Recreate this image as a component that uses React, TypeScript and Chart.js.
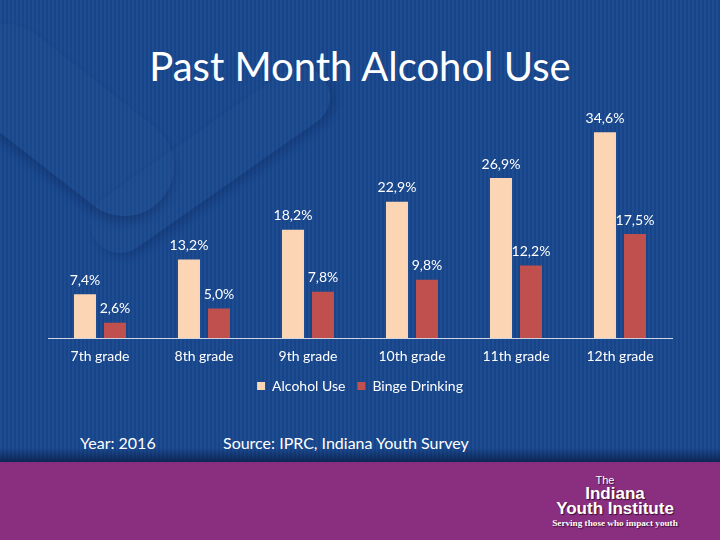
import React, { useEffect, useRef } from "react";
import { Chart, registerables } from "chart.js";

Chart.register(...registerables);

const categories = ["7th grade", "8th grade", "9th grade", "10th grade", "11th grade", "12th grade"];
const alcoholUse = [7.4, 13.2, 18.2, 22.9, 26.9, 34.6];
const bingeDrinking = [2.6, 5.0, 7.8, 9.8, 12.2, 17.5];
const seriesNames = ["Alcohol Use", "Binge Drinking"];
const titleText = "Past Month Alcohol Use";
const yearText = "Year: 2016";
const sourceText = "Source: IPRC, Indiana Youth Survey";

const FONT = "Lato, 'Open Sans', sans-serif";

const valueLabels = {
  id: "valueLabels",
  afterDatasetsDraw(chart: any) {
    const ctx = chart.ctx;
    ctx.save();
    ctx.font = `14px ${FONT}`;
    ctx.fillStyle = "#ffffff";
    ctx.textAlign = "center";
    ctx.textBaseline = "bottom";
    chart.data.datasets.forEach((ds: any, i: number) => {
      const meta = chart.getDatasetMeta(i);
      meta.data.forEach((el: any, j: number) => {
        const v = ds.data[j] as number;
        ctx.fillText(v.toFixed(1).replace(".", ",") + "%", el.x, el.y - 7);
      });
    });
    ctx.restore();
  },
};

function BarChart() {
  const ref = useRef<HTMLCanvasElement | null>(null);
  useEffect(() => {
    if (!ref.current) return;
    const chart = new Chart(ref.current, {
      type: "bar",
      data: {
        labels: categories,
        datasets: [
          {
            label: seriesNames[0],
            data: alcoholUse,
            backgroundColor: "#fcd5b5",
            categoryPercentage: 0.577,
            barPercentage: 0.733,
          },
          {
            label: seriesNames[1],
            data: bingeDrinking,
            backgroundColor: "#c0504d",
            categoryPercentage: 0.577,
            barPercentage: 0.733,
          },
        ],
      },
      options: {
        responsive: false,
        animation: false,
        devicePixelRatio: 1,
        layout: { padding: { left: 48, right: 48, top: 10, bottom: 7 } },
        plugins: {
          tooltip: { enabled: false },
          legend: {
            display: true,
            position: "bottom",
            labels: {
              color: "#ffffff",
              boxWidth: 8,
              boxHeight: 8,
              padding: 12,
              font: { family: FONT, size: 14 },
            },
          },
        },
        scales: {
          x: {
            grid: { display: false, drawTicks: false },
            border: { display: true, color: "#d0d8e8", width: 1 },
            ticks: { color: "#ffffff", padding: 10, font: { family: FONT, size: 14 } },
            afterFit: (s: any) => {
              s.height = s.height - 8;
            },
          },
          y: { display: false, min: 0, max: 40 },
        },
      },
      plugins: [valueLabels],
    } as any);
    return () => chart.destroy();
  }, []);
  return (
    <canvas
      ref={ref}
      width={720}
      height={320}
      style={{ position: "absolute", left: 0, top: 90, width: 720, height: 320 }}
    />
  );
}

export default function App() {
  return (
    <div
      style={{
        position: "absolute",
        left: 0,
        top: 0,
        width: 720,
        height: 540,
        overflow: "hidden",
        fontFamily: FONT,
        background:
          "repeating-linear-gradient(90deg, #1d4c90 0px, #1d4c90 2px, #18448a 2px, #18448a 4px)",
      }}
    >
      {/* faint background figure shapes */}
      <div
        style={{
          position: "absolute",
          left: -60,
          top: 70,
          width: 250,
          height: 100,
          borderRadius: 50,
          transform: "rotate(38deg)",
          background: "rgba(255,255,255,0.012)",
          boxShadow: "3px 5px 8px rgba(0,15,50,0.22)",
        }}
      />
      <div
        style={{
          position: "absolute",
          left: 70,
          top: 130,
          width: 280,
          height: 60,
          borderRadius: 30,
          transform: "rotate(-35deg)",
          background: "rgba(255,255,255,0.01)",
          boxShadow: "3px 5px 8px rgba(0,15,50,0.2)",
        }}
      />
      <div
        style={{
          position: "absolute",
          left: 0,
          top: 448,
          width: 720,
          height: 14,
          background: "linear-gradient(180deg, rgba(5,20,55,0) 0%, rgba(5,20,55,0.65) 100%)",
        }}
      />
      <div
        style={{
          position: "absolute",
          left: 0,
          top: 38,
          width: 720,
          textAlign: "center",
          color: "#ffffff",
          fontSize: 40,
          lineHeight: "56px",
        }}
      >
        {titleText}
      </div>
      <BarChart />
      <div style={{ position: "absolute", left: 80, top: 433, color: "#ffffff", fontSize: 16 }}>{yearText}</div>
      <div style={{ position: "absolute", left: 223, top: 433, color: "#ffffff", fontSize: 16 }}>{sourceText}</div>
      <div
        style={{
          position: "absolute",
          left: 0,
          top: 462,
          width: 720,
          height: 78,
          background: "#8a2e80",
        }}
      />
      <div
        style={{
          position: "absolute",
          left: 540,
          top: 474,
          width: 150,
          textAlign: "center",
          color: "#ffffff",
          fontFamily: "'Liberation Sans', Arial, sans-serif",
          textShadow: "1px 1px 1px #3a1035",
        }}
      >
        <div style={{ fontSize: 11, lineHeight: "12px", marginLeft: -20 }}>The</div>
        <div style={{ fontSize: 17, fontWeight: "bold", lineHeight: "15px" }}>Indiana</div>
        <div style={{ fontSize: 17, fontWeight: "bold", lineHeight: "15px" }}>Youth Institute</div>
        <div
          style={{
            fontSize: 9.2,
            fontWeight: "bold",
            lineHeight: "15px",
            fontFamily: "'Liberation Serif', 'DejaVu Serif', serif",
          }}
        >
          Serving those who impact youth
        </div>
      </div>
    </div>
  );
}
